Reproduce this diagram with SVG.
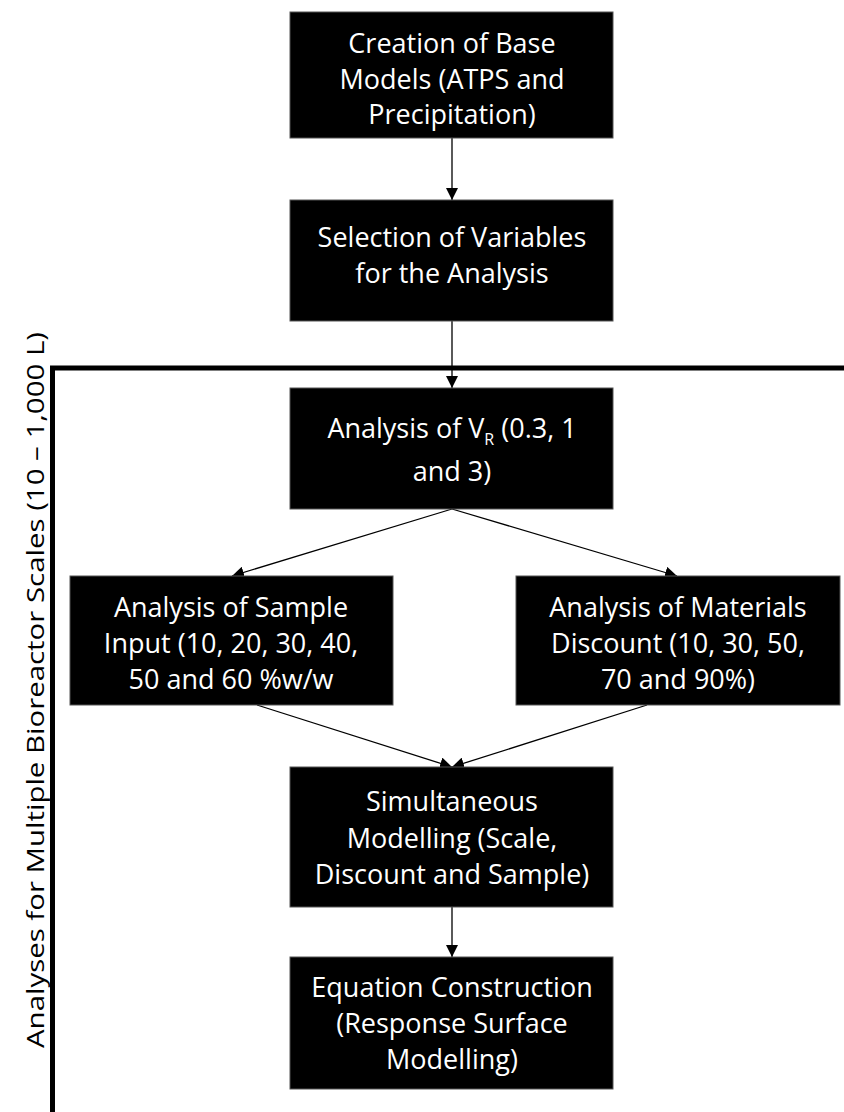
<svg xmlns="http://www.w3.org/2000/svg" width="844" height="1112" viewBox="0 0 844 1112">
<style>
.box{fill:#000;stroke:#555;stroke-width:1}
.t{font-family:"Open Sans","Liberation Sans",sans-serif;font-size:27px;fill:#fff;text-anchor:middle}
.side{font-family:"Open Sans","Liberation Sans",sans-serif;font-size:23px;fill:#000;text-anchor:middle}
.c{stroke:#000;stroke-width:1.3;fill:none}
</style>
<defs>
<marker id="ah" viewBox="0 0 12 12" refX="12" refY="6" markerWidth="12" markerHeight="12" markerUnits="userSpaceOnUse" orient="auto">
<path d="M0,0 L12,6 L0,12 Z" fill="#000"/>
</marker>
</defs>
<rect width="844" height="1112" fill="#fff"/>
<g id="bracket">
<path d="M844 368 H52.5 V1112" fill="none" stroke="#000" stroke-width="5"/>
<text class="side" transform="translate(44,690) rotate(-90)" textLength="716" lengthAdjust="spacingAndGlyphs">Analyses for Multiple Bioreactor Scales (10 – 1,000 L)</text>
</g>
<g id="connectors">
<line class="c" x1="452" y1="138" x2="452" y2="200" marker-end="url(#ah)"/>
<line class="c" x1="452" y1="321" x2="452" y2="388" marker-end="url(#ah)"/>
<line class="c" x1="452" y1="509" x2="232" y2="576" marker-end="url(#ah)"/>
<line class="c" x1="452" y1="509" x2="677" y2="576" marker-end="url(#ah)"/>
<line class="c" x1="257" y1="705" x2="452" y2="767" marker-end="url(#ah)"/>
<line class="c" x1="647" y1="705" x2="452" y2="767" marker-end="url(#ah)"/>
<line class="c" x1="452" y1="907" x2="452" y2="957" marker-end="url(#ah)"/>
</g>
<g id="n1">
<rect class="box" x="290" y="12" width="323" height="126"/>
<text class="t" x="452" y="53">Creation of Base</text>
<text class="t" x="452" y="89">Models (ATPS and</text>
<text class="t" x="452" y="124">Precipitation)</text>
</g>
<g id="n2">
<rect class="box" x="290" y="200" width="323" height="121"/>
<text class="t" x="452" y="247">Selection of Variables</text>
<text class="t" x="452" y="283">for the Analysis</text>
</g>
<g id="n3">
<rect class="box" x="290" y="388" width="323" height="121"/>
<text class="t" x="452" y="438">Analysis of V<tspan font-size="16" dy="7">R</tspan><tspan dy="-7"> (0.3, 1</tspan></text>
<text class="t" x="452" y="481">and 3)</text>
</g>
<g id="n4">
<rect class="box" x="70" y="576" width="323" height="129"/>
<text class="t" x="231" y="617">Analysis of Sample</text>
<text class="t" x="231" y="653">Input (10, 20, 30, 40,</text>
<text class="t" x="231" y="689">50 and 60 %w/w</text>
</g>
<g id="n5">
<rect class="box" x="516" y="576" width="324" height="129"/>
<text class="t" x="678" y="617">Analysis of Materials</text>
<text class="t" x="678" y="653">Discount (10, 30, 50,</text>
<text class="t" x="678" y="689">70 and 90%)</text>
</g>
<g id="n6">
<rect class="box" x="290" y="767" width="323" height="140"/>
<text class="t" x="452" y="811">Simultaneous</text>
<text class="t" x="452" y="848">Modelling (Scale,</text>
<text class="t" x="452" y="884">Discount and Sample)</text>
</g>
<g id="n7">
<rect class="box" x="290" y="957" width="323" height="132"/>
<text class="t" x="452" y="997">Equation Construction</text>
<text class="t" x="452" y="1033">(Response Surface</text>
<text class="t" x="452" y="1069">Modelling)</text>
</g>
</svg>
